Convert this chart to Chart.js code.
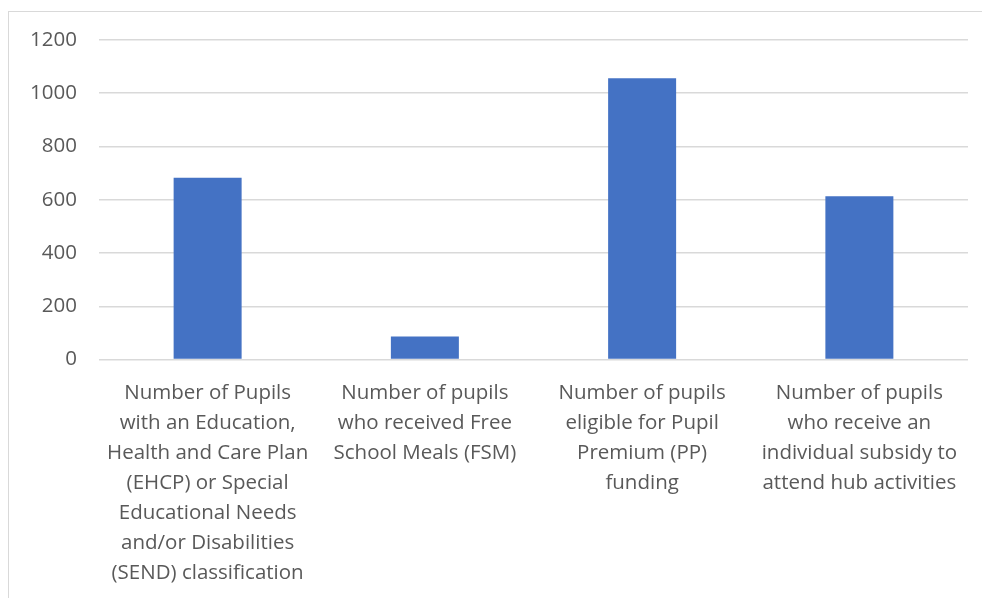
<!DOCTYPE html>
<html>
<head>
<meta charset="utf-8">
<script src="https://cdn.jsdelivr.net/npm/chart.js@4/dist/chart.umd.min.js"></script>
<style>
  html, body { margin: 0; padding: 0; background: #fff; }
  #wrap { position: relative; width: 982px; height: 598px; overflow: hidden; }
  #frame {
    position: absolute; left: 8px; top: 11px; width: 1000px; height: 620px;
    border-left: 1.5px solid #d9d9d9; border-top: 1.5px solid #d9d9d9;
  }
  #box { position: absolute; left: 0; top: 0; width: 982px; height: 598px; }
</style>
</head>
<body>
<div id="wrap">
  <div id="frame"></div>
  <div id="box"><canvas id="pupilsChart"></canvas></div>
</div>
<script>
const categories = [
  ["Number of Pupils", "with an Education,", "Health and Care Plan", "(EHCP) or Special", "Educational Needs", "and/or Disabilities", "(SEND) classification"],
  ["Number of pupils", "who received Free", "School Meals (FSM)"],
  ["Number of pupils", "eligible for Pupil", "Premium (PP)", "funding"],
  ["Number of pupils", "who receive an", "individual subsidy to", "attend hub activities"]
];
const pupilCounts = [683, 86, 1056, 613];
const yTicks = [0, 200, 400, 600, 800, 1000, 1200];

const textColor = "#595959";
const gridColor = "#d9d9d9";

const ctx = document.getElementById("pupilsChart").getContext("2d");

new Chart(ctx, {
  type: "bar",
  data: {
    labels: categories,
    datasets: [{
      data: pupilCounts,
      backgroundColor: "#4472c4",
      borderWidth: 0,
      categoryPercentage: 1,
      barPercentage: 0.313
    }]
  },
  options: {
    responsive: true,
    maintainAspectRatio: false,
    animation: false,
    layout: {
      padding: { top: 40, right: 14, bottom: 0, left: 0 }
    },
    plugins: {
      legend: { display: false },
      tooltip: { enabled: false }
    },
    scales: {
      x: {
        grid: { display: false },
        border: { display: false },
        ticks: {
          color: textColor,
          font: { family: "Open Sans", size: 20.5, lineHeight: 30 / 20.5 },
          maxRotation: 0,
          minRotation: 0,
          autoSkip: false,
          padding: 11
        },
        afterFit: (scale) => { scale.height = 238.5; }
      },
      y: {
        min: 0,
        max: 1200,
        afterBuildTicks: (scale) => {
          scale.ticks = yTicks.map(v => ({ value: v }));
        },
        grid: {
          color: gridColor,
          lineWidth: 1.5,
          drawTicks: false
        },
        border: { display: false },
        ticks: {
          color: textColor,
          font: { family: "Open Sans", size: 20.5 },
          padding: 22,
          callback: (v) => String(v)
        },
        afterFit: (scale) => { scale.width = 99; }
      }
    }
  }
});
</script>
</body>
</html>
